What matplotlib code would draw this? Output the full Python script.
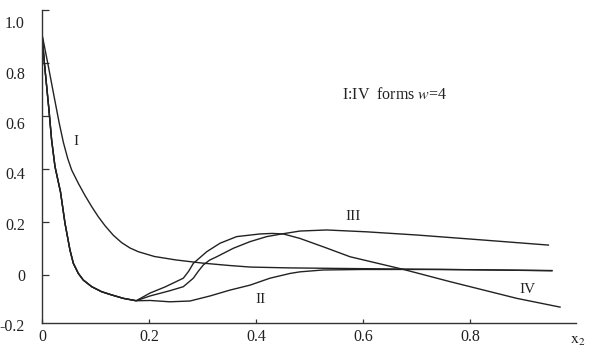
import matplotlib
matplotlib.use("Agg")
import matplotlib.pyplot as plt
from matplotlib.transforms import blended_transform_factory

plt.rcParams['font.family'] = ['Liberation Serif', 'DejaVu Serif']
plt.rcParams['mathtext.fontset'] = 'stix'

# ---- data ----
# shared steep branch from x=0 down to the junction near x=0.176
x_inner = [0.000, 0.0045, 0.013, 0.018, 0.0243, 0.0346, 0.043, 0.0523, 0.0586, 0.0679, 0.0772,
           0.0929, 0.1115, 0.130, 0.152, 0.176]
y_inner = [0.909, 0.799, 0.623, 0.509, 0.409, 0.313, 0.195, 0.094, 0.044, 0.006, -0.019,
           -0.044, -0.063, -0.075, -0.088, -0.097]

x_I = [0.000, 0.0107, 0.022, 0.032, 0.040, 0.048, 0.0555, 0.0679, 0.0804, 0.0929, 0.1052, 0.1178,
       0.1333, 0.149, 0.1645, 0.180, 0.21, 0.25, 0.30, 0.35, 0.39, 0.46, 0.55, 0.65, 0.75,
       0.85, 0.953]
y_I = [0.909, 0.800, 0.680, 0.575, 0.500, 0.440, 0.396, 0.346, 0.300, 0.258, 0.220, 0.186,
       0.150, 0.122, 0.102, 0.088, 0.070, 0.057, 0.045, 0.036, 0.030, 0.027, 0.025, 0.023, 0.021,
       0.019, 0.016]

x_II_tail = [0.202, 0.239, 0.2766, 0.314, 0.351, 0.389, 0.426, 0.4636, 0.482, 0.525, 0.60, 0.744, 0.953]
y_II_tail = [-0.096, -0.101, -0.098, -0.079, -0.057, -0.038, -0.012, 0.006, 0.012, 0.019, 0.021, 0.021, 0.017]

x_III_tail = [0.2019, 0.2393, 0.2641, 0.2828, 0.292, 0.3015, 0.313, 0.3266, 0.3576, 0.3888, 0.42,
              0.448, 0.4822, 0.5321, 0.6069, 0.7004, 0.8249, 0.9464]
y_III_tail = [-0.079, -0.059, -0.044, -0.012, 0.014, 0.038, 0.056, 0.069, 0.101, 0.126, 0.145,
              0.155, 0.166, 0.170, 0.163, 0.151, 0.132, 0.113]

x_IV_tail = [0.2019, 0.2299, 0.2641, 0.274, 0.2828, 0.3079, 0.3327, 0.3639, 0.4075, 0.4299, 0.451,
             0.4822, 0.529, 0.5757, 0.6748, 0.7626, 0.8873, 0.9682]
y_IV_tail = [-0.068, -0.045, -0.012, 0.014, 0.044, 0.088, 0.120, 0.145, 0.155, 0.157, 0.155,
             0.138, 0.104, 0.069, 0.0215, -0.025, -0.088, -0.121]

x_ticks = [0, 0.2, 0.4, 0.6, 0.8]
x_ticklabels = ['0', '0.2', '0.4', '0.6', '0.8']
y_ticks = [0, 0.2, 0.4, 0.6, 0.8, 1.0]
y_labels = ['1.0', '0.8', '0.6', '0.4', '0.2', '0', '-0.2']
# the reference prints its y labels slightly off the tick marks
y_label_pos = [0.947, 0.755, 0.566, 0.377, 0.185, -0.0075, -0.196]

series_labels = ['I', 'II', 'III', 'IV']
label_pos = [(0.0636, 0.502), (0.409, -0.091), (0.581, 0.219), (0.908, -0.053)]

# ---- figure ----
fig = plt.figure(figsize=(6.01, 3.6), dpi=100)
ax = fig.add_axes([42 / 601, 37 / 360, 534 / 601, 313 / 360])

lc = '#222222'
lw = 1.0
ax.plot(x_I, y_I, color=lc, lw=lw)
ax.plot(x_inner + x_II_tail, y_inner + y_II_tail, color=lc, lw=lw)
ax.plot(x_inner + x_III_tail, y_inner + y_III_tail, color=lc, lw=lw)
ax.plot(x_inner + x_IV_tail, y_inner + y_IV_tail, color=lc, lw=lw)

ax.set_xlim(0, 0.998)
ax.set_ylim(-0.181, 1.0)

for s in ['top', 'right']:
    ax.spines[s].set_visible(False)
for s in ['left', 'bottom']:
    ax.spines[s].set_color('#333333')
    ax.spines[s].set_linewidth(1.0)

ax.set_xticks(x_ticks)
ax.set_xticklabels(x_ticklabels)
ax.set_yticks(y_ticks)
ax.tick_params(axis='x', direction='in', length=3, width=0.9, color='#333333',
               labelsize=11.5, pad=4, labelcolor='#222222')
ax.tick_params(axis='y', direction='in', length=5, width=0.9, color='#333333',
               labelleft=False)

tr = blended_transform_factory(ax.transAxes, ax.transData)
for lab, yp in zip(y_labels, y_label_pos):
    ax.text(-17 / 534, yp, lab, transform=tr, ha='right', va='center',
            fontsize=11.5, color='#222222', clip_on=False)

for lab, (lx, ly) in zip(series_labels, label_pos):
    ax.text(lx, ly, lab, ha='center', va='center', fontsize=11, color='#222222')

ax.text(0.561, 0.679, 'I:IV  forms $w$=4', ha='left', va='center', fontsize=11.5, color='#222222')
ax.text(1.002, -0.245, r'$\mathrm{x}_2$', ha='center', va='center', fontsize=11.5,
        color='#222222', clip_on=False)

fig.savefig('out.png', dpi=100)
